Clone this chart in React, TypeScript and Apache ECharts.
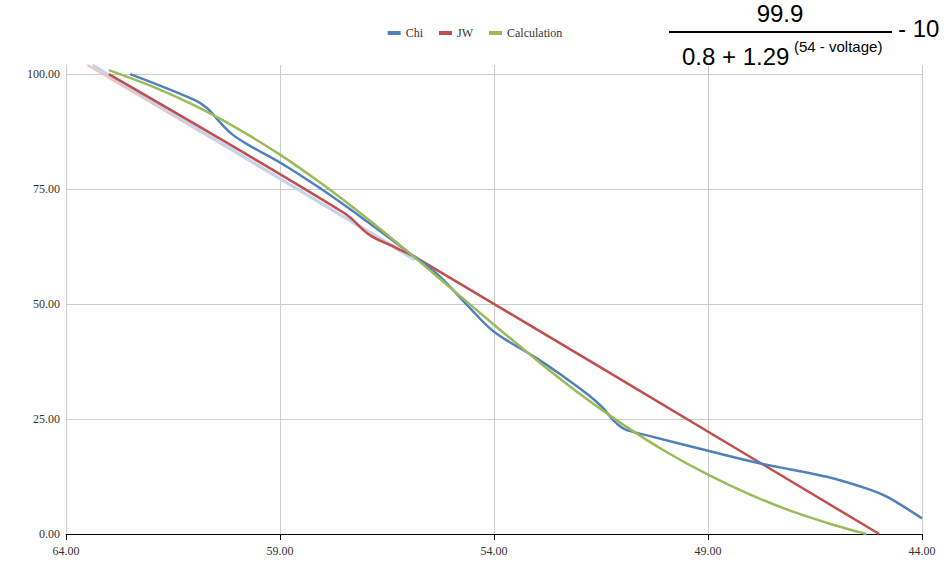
import React, { useEffect, useRef } from "react";
import * as echarts from "echarts";

// Series: [voltage, value]
const chiData: number[][] = [
  [62.5, 100], [61, 94.4], [60.7, 92.6], [60.4, 89.5], [60.1, 86.8], [59.7, 84.4],
  [59, 80.8], [58, 74.8], [57, 68.2], [56, 61.3], [55.3, 56.3], [54.6, 49.5],
  [54, 44], [53, 38.2], [52.4, 34.4], [51.8, 30.3], [51.45, 27.4], [51.2, 24.6], [50.95, 22.8],
  [50.4, 21.4], [49, 18.1], [47.8, 15.4], [46.2, 12.4], [45.2, 9.6], [44.8, 8.0], [44, 3.4],
];
const jwData: number[][] = [
  [63, 100], [57.5, 69.8], [56.9, 65.0], [56.3, 62.3], [55.8, 60.0], [45, 0],
];
const calcData: number[][] = [
  [63, 100.9], [62, 97.4], [61, 93.2], [60, 88.2], [59, 82.5], [58, 76.0], [57, 68.9],
  [56, 61.3], [55, 53.4], [54, 45.5], [53, 37.8], [52, 30.5], [51, 23.9], [50, 18.0],
  [49, 12.9], [48, 8.5], [47, 4.8], [46, 1.8], [45.5, 0.5], [45.3, 0],
];
const paleRedData: number[][] = [[63.5, 102], [55.9, 60.2]];
const paleBlueData: number[][] = [[63.38, 102], [55.85, 59.6]];

const xTicks = { min: 44, max: 64, interval: 5 };
const yTicks = { min: 0, max: 102, interval: 25 };

const serif = "'Liberation Serif', 'Times New Roman', serif";
const sans = "'Liberation Sans', Arial, sans-serif";

export default function App() {
  const ref = useRef<HTMLDivElement>(null);
  useEffect(() => {
    if (!ref.current) return;
    const chart = echarts.init(ref.current, null, { renderer: "svg" });
    const lineSeries = (name: string, data: number[][], color: string, width = 2.5, z = 3) => ({
      name,
      type: "line",
      data,
      smooth: 0.35,
      showSymbol: false,
      symbol: "none",
      lineStyle: { color, width },
      itemStyle: { color },
      z,
    });
    chart.setOption({
      animation: false,
      backgroundColor: "#ffffff",
      grid: { left: 66, right: 28, top: 65, bottom: 52 },
      legend: {
        data: ["Chi", "JW", "Calculation"],
        top: 22,
        left: "center",
        icon: "rect",
        itemWidth: 13,
        itemHeight: 4,
        itemGap: 16,
        textStyle: { fontFamily: serif, fontSize: 12, color: "#333" },
      },
      xAxis: {
        type: "value",
        inverse: true,
        min: xTicks.min,
        max: xTicks.max,
        interval: xTicks.interval,
        axisLine: { show: true, onZero: false, lineStyle: { color: "#000", width: 1 } },
        axisTick: { show: true, length: 6, lineStyle: { color: "#000" } },
        axisLabel: {
          formatter: (v: number) => v.toFixed(2),
          fontFamily: serif,
          fontSize: 12,
          color: "#333",
          margin: 11,
        },
        splitLine: { show: true, lineStyle: { color: "#cccccc", width: 1 } },
      },
      yAxis: {
        type: "value",
        min: yTicks.min,
        max: yTicks.max,
        interval: yTicks.interval,
        axisLine: { show: true, lineStyle: { color: "#cccccc", width: 1 } },
        axisTick: { show: false },
        axisLabel: {
          formatter: (v: number) => (v % 25 === 0 ? v.toFixed(2) : ""),
          showMaxLabel: false,
          fontFamily: serif,
          fontSize: 12,
          color: "#333",
          margin: 6,
        },
        splitLine: { show: true, showMaxLine: false, lineStyle: { color: "#cccccc", width: 1 } },
      },
      series: [
        { ...lineSeries("paleRed", paleRedData, "#efc3c6", 2.5, 1), silent: true },
        { ...lineSeries("paleBlue", paleBlueData, "#c3d5ec", 3, 1), silent: true },
        lineSeries("JW", jwData, "#c0504d", 2.5, 3),
        lineSeries("Chi", chiData, "#4f81bd", 2.5, 4),
        lineSeries("Calculation", calcData, "#9bbb59", 2.5, 5),
      ],
      graphic: [
        {
          type: "text",
          x: 780,
          y: 13,
          z: 100,
          style: { text: "99.9", font: `24px ${sans}`, fill: "#000", align: "center", verticalAlign: "middle" },
        },
        {
          type: "line",
          z: 100,
          shape: { x1: 669, y1: 32, x2: 892, y2: 32 },
          style: { stroke: "#000", lineWidth: 2 },
        },
        {
          type: "text",
          x: 898,
          y: 28,
          z: 100,
          style: { text: "- 10", font: `24px ${sans}`, fill: "#000", align: "left", verticalAlign: "middle" },
        },
        {
          type: "text",
          x: 682,
          y: 56,
          z: 100,
          style: { text: "0.8 + 1.29", font: `24px ${sans}`, fill: "#000", align: "left", verticalAlign: "middle" },
        },
        {
          type: "text",
          x: 794,
          y: 46,
          z: 100,
          style: { text: "(54 - voltage)", font: `15px ${sans}`, fill: "#000", align: "left", verticalAlign: "middle" },
        },
      ],
    });
    return () => chart.dispose();
  }, []);
  return (
    <div
      ref={ref}
      style={{ position: "fixed", left: 0, top: 0, width: 950, height: 586, background: "#fff" }}
    />
  );
}
